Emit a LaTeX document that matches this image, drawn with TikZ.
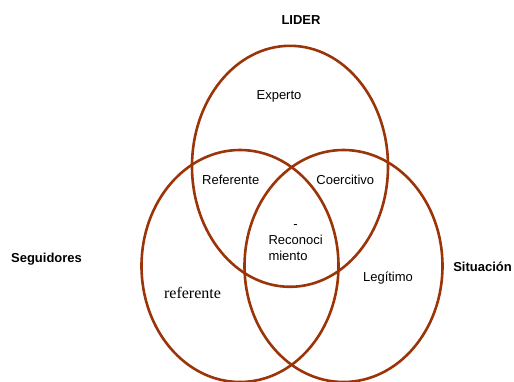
\documentclass[tikz,border=0pt]{standalone}
\usepackage{fontspec}
\usetikzlibrary{shapes.geometric}
\setmainfont{Liberation Sans}
\newfontfamily\timesfont{Liberation Serif}
\definecolor{rust}{RGB}{155,52,8}
\begin{document}
\begin{tikzpicture}[x=1pt,y=-1pt,
  circ/.style={draw=rust,line width=2.6pt,ellipse,inner sep=0pt},
  lbl/.style={inner sep=0pt,font=\fontsize{13}{16}\selectfont},
  title/.style={inner sep=0pt,font=\fontsize{13}{16}\selectfont\bfseries}]
\useasboundingbox (0,0) rectangle (514,381);
\begin{scope}
\clip (0,0) rectangle (514,381);
\node[circ,minimum width=196pt,minimum height=241pt] (elider) at (290,166.3) {};
\node[circ,minimum width=197pt,minimum height=232pt] (eseg) at (240,266) {};
\node[circ,minimum width=198pt,minimum height=232pt] (esit) at (343.5,266) {};
\end{scope}
\node[title] (tl) at (301,20) {LIDER};
\node[title] (ts) at (46.5,259.5) {Seguidores};
\node[title] (tsi) at (482.5,266.5) {Situación};
\node[lbl] (exp) at (279,96.5) {Experto};
\node[lbl] (ref) at (230.7,180) {Referente};
\node[lbl] (coe) at (345.3,180) {Coercitivo};
\node[lbl,anchor=west] (rec) at (268.3,240.8) {\begin{tabular}{@{}l@{}}\multicolumn{1}{@{}c@{}}{-}\\Reconoci\\miento\end{tabular}};
\node[lbl] (leg) at (388,278.3) {Legítimo};
\node[inner sep=0pt,font=\timesfont\fontsize{16}{19}\selectfont] (refb) at (192.5,293) {referente};
\end{tikzpicture}
\end{document}
